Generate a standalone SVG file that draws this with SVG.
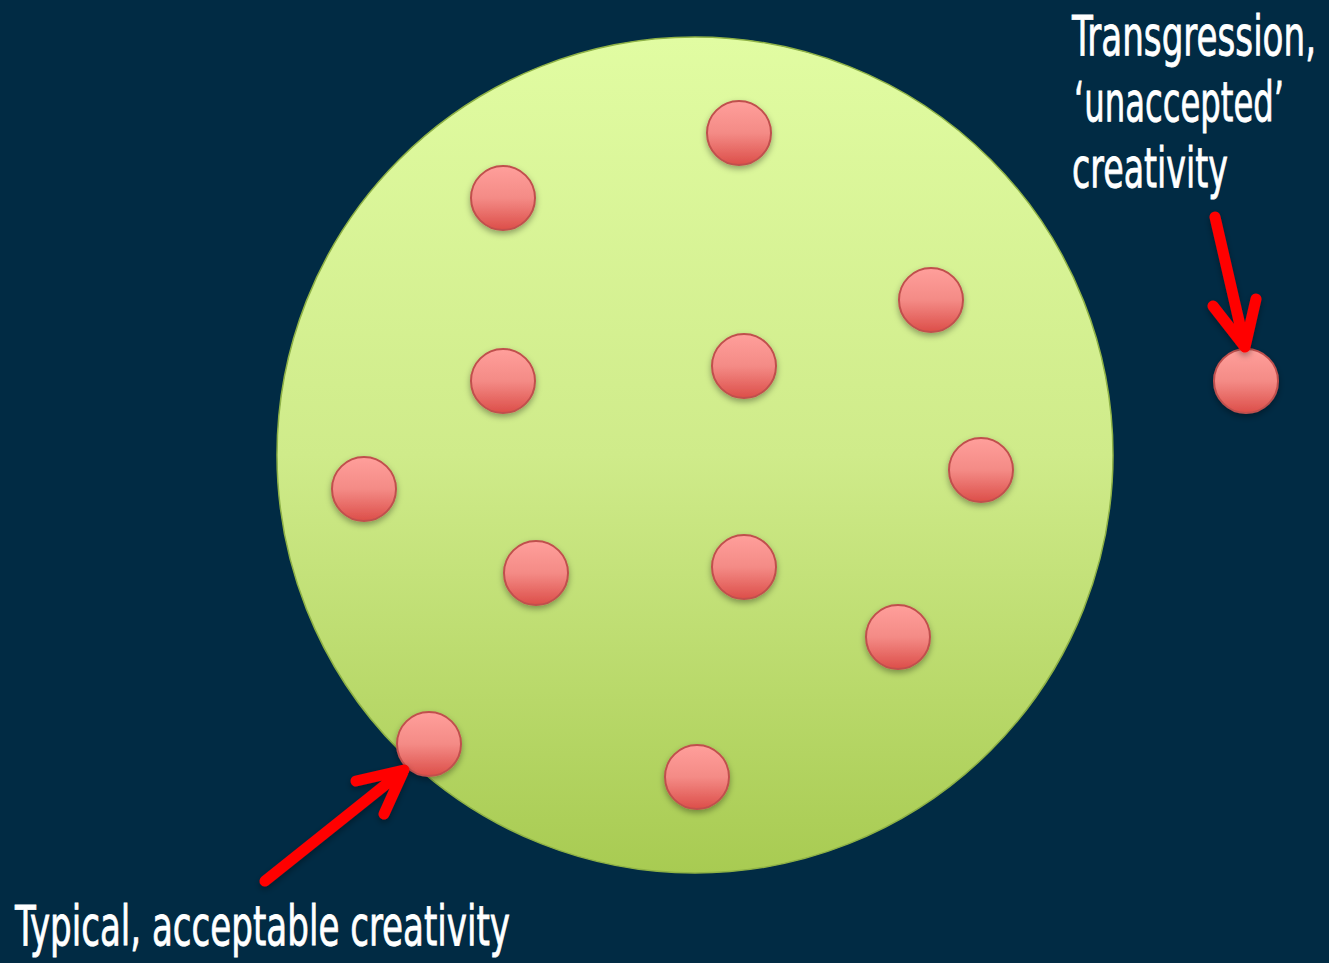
<svg xmlns="http://www.w3.org/2000/svg" width="1329" height="963" viewBox="0 0 1329 963">
<defs>
<linearGradient id="gBig" x1="0" y1="0" x2="0" y2="1">
<stop offset="0" stop-color="#e1fca2"/>
<stop offset="0.5" stop-color="#cfeb8a"/>
<stop offset="1" stop-color="#a8cb52"/>
</linearGradient>
<linearGradient id="gDot" x1="0" y1="0" x2="0" y2="1">
<stop offset="0" stop-color="#ff9f9b"/>
<stop offset="0.5" stop-color="#f48b86"/>
<stop offset="1" stop-color="#dc4e49"/>
</linearGradient>
<filter id="sh" x="-50%" y="-50%" width="200%" height="200%">
<feDropShadow dx="0" dy="3" stdDeviation="3" flood-color="#000" flood-opacity="0.35"/>
</filter>
</defs>
<style>
.dot{fill:url(#gDot);stroke:#c0504d;stroke-width:2;filter:url(#sh)}
.arr{fill:none;stroke:#ff0000;stroke-width:11;stroke-linecap:round;stroke-linejoin:round}
.lbl{font-family:"DejaVu Sans Condensed","Liberation Sans",sans-serif;fill:#ffffff;stroke:#ffffff;stroke-width:0.8;font-size:56px}
.end{text-anchor:end}
</style>
<rect width="1329" height="963" fill="#012b44"/>
<g id="field">
<circle cx="695" cy="455" r="418" fill="url(#gBig)" stroke="#8fb246" stroke-width="1.5"/>
</g>
<g id="n1"><circle class="dot" cx="739" cy="133" r="32"/></g>
<g id="n2"><circle class="dot" cx="503" cy="198" r="32"/></g>
<g id="n3"><circle class="dot" cx="931" cy="300" r="32"/></g>
<g id="n4"><circle class="dot" cx="503" cy="381" r="32"/></g>
<g id="n5"><circle class="dot" cx="744" cy="366" r="32"/></g>
<g id="n6"><circle class="dot" cx="1246" cy="381" r="32"/></g>
<g id="n7"><circle class="dot" cx="364" cy="489" r="32"/></g>
<g id="n8"><circle class="dot" cx="981" cy="470" r="32"/></g>
<g id="n9"><circle class="dot" cx="536" cy="573" r="32"/></g>
<g id="n10"><circle class="dot" cx="744" cy="567" r="32"/></g>
<g id="n11"><circle class="dot" cx="898" cy="637" r="32"/></g>
<g id="n12"><circle class="dot" cx="429" cy="744" r="32"/></g>
<g id="n13"><circle class="dot" cx="697" cy="777" r="32"/></g>
<g id="connectors" filter="url(#sh)">
<path class="arr" d="M1215 217 L1245 347 M1213 306 L1245 347 L1256 299"/>
<path class="arr" d="M265 881 L404 770 M356 781 L404 770 L384 814"/>
</g>
<g id="labels">
<text class="lbl end" x="1316" y="55" textLength="244" lengthAdjust="spacingAndGlyphs">Transgression,</text>
<text class="lbl end" x="1284" y="121" textLength="210" lengthAdjust="spacingAndGlyphs">‘unaccepted’</text>
<text class="lbl end" x="1228" y="187" textLength="156" lengthAdjust="spacingAndGlyphs">creativity</text>
<text class="lbl" x="15" y="945" textLength="495" lengthAdjust="spacingAndGlyphs">Typical, acceptable creativity</text>
</g>
</svg>
